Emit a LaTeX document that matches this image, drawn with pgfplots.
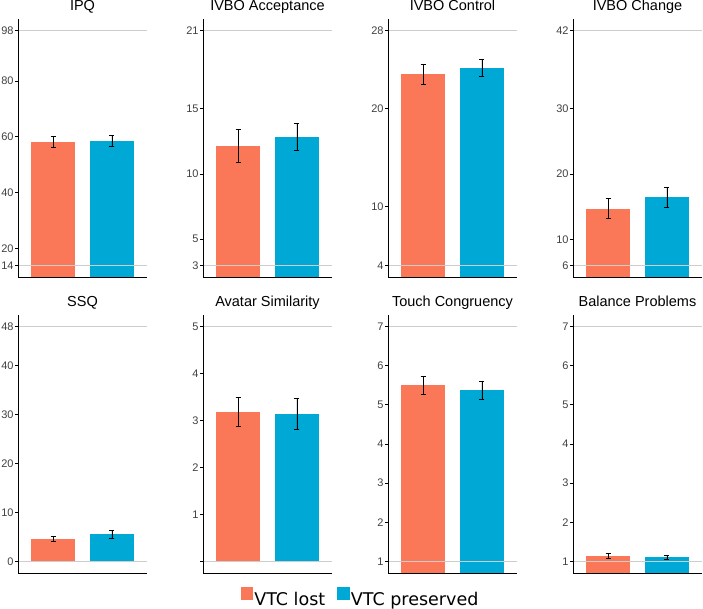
\documentclass[border=0pt]{standalone}
\usepackage{pgfplots}
\pgfplotsset{compat=1.18}
\usepackage{fontspec}
\setmainfont{Liberation Sans}
\newfontfamily\legendfont{DejaVu Sans}

\definecolor{lost}{HTML}{FA7758}
\definecolor{kept}{HTML}{00A9D5}
\definecolor{refline}{HTML}{CDCDCD}

\pgfplotsset{
  panel/.style={
    width=129bp, height=258bp, scale only axis,
    anchor=south west,
    xmin=0.4, xmax=2.6,
    xtick=\empty,
    axis x line*=bottom, axis y line*=left,
    axis line style={black, line width=0.9bp},
    axis on top,
    tick align=outside, major tick length=2.75bp,
    ytick style={black, line width=0.9bp},
    tick label style={font=\fontsize{11bp}{13bp}\selectfont, text=black!75},
    yticklabel style={inner sep=1.5bp},
    /pgf/number format/assume math mode=true,
    every axis title/.style={at={(0.5,1)}, anchor=base, yshift=8.3bp,
      font=\fontsize{14.5bp}{17bp}\selectfont},
  },
  barstyle/.style={ybar, bar width=0.75, bar shift=0pt, fill=#1, draw=none,
    error bars/.cd, y dir=both, y explicit,
    error bar style={black, line width=0.6bp},
    error mark options={rotate=90, black, mark size=2.5bp, line width=0.6bp}},
  limit/.style={refline, line width=0.9bp, forget plot},
}

\begin{document}
\begin{tikzpicture}
\path[use as bounding box] (0bp,0bp) rectangle (703bp,-609bp);

% top row
\begin{axis}[panel, at={(18bp,-277bp)}, title={IPQ},
  ymin=9.8, ymax=102.2, ytick={14,20,40,60,80,98}]
\addplot[barstyle=lost] coordinates {(1,58.1) +- (0,1.95)};
\addplot[barstyle=kept] coordinates {(2,58.45) +- (0,2.0)};
\addplot[limit] coordinates {(0.4,14) (2.6,14)};
\addplot[limit] coordinates {(0.4,98) (2.6,98)};
\end{axis}

\begin{axis}[panel, at={(203bp,-277bp)}, title={IVBO Acceptance},
  ymin=2.1, ymax=21.9, ytick={3,5,10,15,21}]
\addplot[barstyle=lost] coordinates {(1,12.14) +- (0,1.27)};
\addplot[barstyle=kept] coordinates {(2,12.86) +- (0,1.03)};
\addplot[limit] coordinates {(0.4,3) (2.6,3)};
\addplot[limit] coordinates {(0.4,21) (2.6,21)};
\end{axis}

\begin{axis}[panel, at={(388bp,-277bp)}, title={IVBO Control},
  ymin=2.8, ymax=29.2, ytick={4,10,20,28}]
\addplot[barstyle=lost] coordinates {(1,23.53) +- (0,0.99)};
\addplot[barstyle=kept] coordinates {(2,24.18) +- (0,0.86)};
\addplot[limit] coordinates {(0.4,4) (2.6,4)};
\addplot[limit] coordinates {(0.4,28) (2.6,28)};
\end{axis}

\begin{axis}[panel, at={(573bp,-277bp)}, title={IVBO Change},
  ymin=4.2, ymax=43.8, ytick={6,10,20,30,42}]
\addplot[barstyle=lost] coordinates {(1,14.71) +- (0,1.54)};
\addplot[barstyle=kept] coordinates {(2,16.45) +- (0,1.59)};
\addplot[limit] coordinates {(0.4,6) (2.6,6)};
\addplot[limit] coordinates {(0.4,42) (2.6,42)};
\end{axis}

% bottom row
\begin{axis}[panel, at={(18bp,-573bp)}, title={SSQ},
  ymin=-2.4, ymax=50.4, ytick={0,10,20,30,40,48}]
\addplot[barstyle=lost] coordinates {(1,4.58) +- (0,0.45)};
\addplot[barstyle=kept] coordinates {(2,5.54) +- (0,0.82)};
\addplot[limit] coordinates {(0.4,0) (2.6,0)};
\addplot[limit] coordinates {(0.4,48) (2.6,48)};
\end{axis}

\begin{axis}[panel, at={(203bp,-573bp)}, title={Avatar Similarity},
  ymin=-0.25, ymax=5.25, ytick={0,1,2,3,4,5}, yticklabels={,1,2,3,4,5}]
\addplot[barstyle=lost] coordinates {(1,3.18) +- (0,0.31)};
\addplot[barstyle=kept] coordinates {(2,3.15) +- (0,0.33)};
\addplot[limit] coordinates {(0.4,0) (2.6,0)};
\addplot[limit] coordinates {(0.4,5) (2.6,5)};
\end{axis}

\begin{axis}[panel, at={(388bp,-573bp)}, title={Touch Congruency},
  ymin=0.7, ymax=7.3, ytick={1,2,3,4,5,6,7}]
\addplot[barstyle=lost] coordinates {(1,5.50) +- (0,0.22)};
\addplot[barstyle=kept] coordinates {(2,5.37) +- (0,0.23)};
\addplot[limit] coordinates {(0.4,1) (2.6,1)};
\addplot[limit] coordinates {(0.4,7) (2.6,7)};
\end{axis}

\begin{axis}[panel, at={(573bp,-573bp)}, title={Balance Problems},
  ymin=0.7, ymax=7.3, ytick={1,2,3,4,5,6,7}]
\addplot[barstyle=lost] coordinates {(1,1.14) +- (0,0.065)};
\addplot[barstyle=kept] coordinates {(2,1.11) +- (0,0.055)};
\addplot[limit] coordinates {(0.4,1) (2.6,1)};
\addplot[limit] coordinates {(0.4,7) (2.6,7)};
\end{axis}

% legend
\begin{axis}[hide axis, at={(360bp,-598bp)}, anchor=center,
  width=10bp, height=10bp, scale only axis,
  xmin=0, xmax=1, ymin=0, ymax=1,
  legend columns=2,
  legend style={at={(0.5,0.5)}, anchor=center, draw=none, fill=none,
    font=\legendfont\fontsize{17.5bp}{21bp}\selectfont,
    nodes={inner xsep=1bp},
    /tikz/every even column/.append style={column sep=11bp}},
  legend image code/.code={\fill[#1] (0bp,0bp) rectangle (12.7bp,12.7bp);},
]
\addlegendimage{fill=lost, draw=none}
\addlegendentry{VTC lost}
\addlegendimage{fill=kept, draw=none}
\addlegendentry{VTC preserved}
\end{axis}
\end{tikzpicture}
\end{document}
